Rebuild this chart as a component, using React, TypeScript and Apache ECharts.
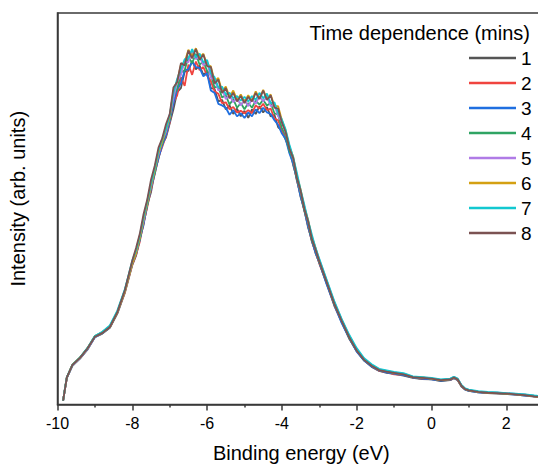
import React, { useEffect, useRef } from "react";
import * as echarts from "echarts";

// Binding energy (eV), shared by all spectra
const energy = [
  -9.85, -9.8, -9.75, -9.6, -9.4, -9.2, -9.0, -8.8, -8.6, -8.4, -8.2, -8.0,
  -7.9, -7.8, -7.7, -7.6, -7.5, -7.4, -7.3, -7.2, -7.1, -7.0,
  -6.9, -6.8, -6.7, -6.6, -6.5, -6.4, -6.3, -6.2, -6.1, -6.0,
  -5.9, -5.8, -5.7, -5.6, -5.5, -5.4, -5.3, -5.2, -5.1, -5.0,
  -4.9, -4.8, -4.7, -4.6, -4.5, -4.4, -4.3, -4.2, -4.1, -4.0,
  -3.9, -3.8, -3.7, -3.6, -3.5, -3.4, -3.3, -3.2, -3.1, -3.0,
  -2.8, -2.6, -2.4, -2.2, -2.0, -1.8, -1.6, -1.4, -1.2, -1.0,
  -0.75, -0.5, -0.25, 0, 0.25, 0.5, 0.6, 0.7, 0.8, 0.9,
  1.0, 1.25, 1.5, 1.75, 2.0, 2.25, 2.5, 2.75, 2.85,
];

const min1 = [
  1.0, 4.1, 6.8, 9.9, 11.7, 14.0, 17.2, 18.1, 19.6, 23.2, 28.5, 35.6,
  38.0, 42.4, 45.8, 51.0, 54.2, 59.5, 62.8, 66.5, 68.2, 71.8,
  75.4, 79.8, 80.8, 85.0, 85.2, 87.8, 85.6, 86.6, 84.2, 85.0,
  80.8, 80.6, 77.4, 77.8, 75.4, 76.4, 74.2, 75.6, 73.6, 75.0,
  73.2, 75.4, 74.2, 76.2, 74.6, 76.0, 73.6, 74.0, 70.8, 70.0,
  67.6, 65.4, 61.2, 57.8, 53.0, 49.8, 45.2, 42.0, 38.6, 36.2,
  30.8, 25.6, 21.0, 17.0, 13.6, 11.2, 9.6, 8.6, 8.1, 7.8,
  7.4, 6.8, 6.5, 6.4, 6.0, 6.2, 6.7, 6.2, 4.6, 3.8,
  3.5, 3.1, 2.9, 2.8, 2.7, 2.5, 2.3, 2.0, 1.9,
];
const min2 = [
  1.1, 4.0, 6.9, 10.1, 11.9, 14.3, 17.4, 18.4, 19.9, 23.6, 28.7, 35.8,
  38.2, 41.6, 46.4, 50.4, 55.0, 58.8, 63.2, 65.8, 68.6, 72.0,
  77.2, 79.0, 83.6, 81.4, 86.8, 84.2, 87.6, 85.4, 86.2, 84.0,
  82.6, 80.0, 79.4, 77.0, 77.2, 75.4, 76.0, 74.6, 75.0, 74.4,
  75.2, 74.4, 76.4, 75.6, 76.8, 75.2, 75.6, 73.0, 72.6, 69.8,
  68.2, 64.6, 62.0, 57.2, 53.6, 49.4, 45.8, 41.6, 39.0, 36.0,
  31.0, 25.2, 21.2, 16.8, 13.7, 11.3, 9.8, 8.6, 8.3, 7.7,
  7.6, 6.9, 6.6, 6.5, 6.3, 6.3, 6.8, 6.3, 4.7, 3.9,
  3.6, 3.2, 3.0, 2.9, 2.8, 2.6, 2.4, 2.1, 2.0,
];
const min3 = [
  0.9, 3.9, 6.8, 10.0, 11.8, 14.1, 17.2, 18.2, 19.7, 23.4, 28.9, 36.0,
  38.4, 42.0, 46.2, 50.8, 55.2, 59.0, 63.0, 66.2, 68.8, 72.4,
  77.0, 80.6, 82.0, 85.4, 85.6, 87.6, 86.2, 86.0, 83.8, 84.6,
  80.2, 79.6, 76.8, 76.4, 75.8, 74.0, 75.2, 73.6, 74.4, 73.2,
  74.6, 73.6, 75.4, 74.4, 75.8, 74.6, 74.2, 72.6, 71.4, 69.2,
  67.8, 64.2, 61.6, 57.4, 53.2, 49.6, 45.6, 41.8, 38.8, 36.2,
  30.6, 25.4, 20.8, 16.9, 13.5, 11.2, 9.7, 8.7, 8.2, 7.9,
  7.5, 6.9, 6.6, 6.4, 6.1, 6.3, 6.8, 6.3, 4.7, 3.8,
  3.5, 3.1, 2.9, 2.9, 2.7, 2.5, 2.3, 2.1, 2.0,
];
const min4 = [
  1.0, 4.1, 7.0, 10.2, 12.0, 14.4, 17.5, 18.5, 20.0, 23.7, 29.2, 36.4,
  39.0, 42.2, 47.4, 51.0, 56.0, 59.2, 64.4, 66.6, 70.0, 72.8,
  78.8, 80.6, 84.8, 85.4, 88.8, 87.2, 89.6, 86.8, 87.6, 85.2,
  84.2, 81.0, 81.2, 78.4, 79.0, 76.6, 78.0, 75.8, 77.0, 75.4,
  77.0, 75.8, 77.6, 76.6, 77.8, 76.4, 77.0, 74.4, 74.0, 70.6,
  68.8, 64.8, 62.6, 57.6, 54.2, 49.6, 46.6, 42.0, 39.6, 36.4,
  31.4, 25.6, 21.6, 17.0, 14.0, 11.4, 10.0, 8.8, 8.5, 8.0,
  7.8, 7.0, 6.9, 6.6, 6.3, 6.5, 7.0, 6.5, 4.9, 4.0,
  3.7, 3.3, 3.1, 3.0, 2.8, 2.7, 2.5, 2.2, 2.1,
];
const min5 = [
  1.0, 4.0, 6.9, 10.0, 11.8, 14.2, 17.3, 18.4, 19.9, 23.6, 29.0, 36.2,
  38.8, 43.0, 46.8, 51.8, 55.6, 60.2, 63.8, 67.4, 69.6, 73.6,
  78.2, 82.4, 84.2, 87.6, 87.4, 90.4, 88.2, 89.0, 86.6, 87.6,
  83.4, 83.0, 80.2, 80.6, 78.0, 79.0, 77.2, 78.4, 76.4, 77.8,
  76.2, 78.0, 76.8, 78.8, 77.4, 78.6, 76.2, 76.6, 73.6, 72.2,
  69.4, 66.0, 62.8, 58.6, 54.4, 50.6, 46.8, 43.0, 39.8, 37.0,
  31.6, 26.2, 21.6, 17.6, 14.1, 11.6, 10.1, 9.0, 8.6, 8.2,
  7.8, 7.1, 6.9, 6.7, 6.3, 6.5, 7.0, 6.5, 4.9, 4.0,
  3.7, 3.3, 3.1, 3.0, 2.9, 2.7, 2.5, 2.2, 2.1,
];
const min6 = [
  1.0, 4.0, 6.9, 10.1, 11.9, 14.3, 17.4, 18.3, 19.8, 23.5, 28.8, 36.0,
  38.6, 42.6, 47.2, 51.4, 55.8, 59.8, 64.2, 67.2, 70.2, 73.4,
  80.2, 82.6, 86.8, 87.4, 90.6, 89.0, 91.0, 88.6, 89.6, 86.8,
  86.4, 82.6, 83.4, 80.0, 81.2, 78.6, 80.2, 77.8, 79.2, 77.4,
  79.0, 77.6, 80.0, 78.2, 80.4, 78.0, 79.2, 76.2, 76.2, 72.6,
  70.0, 65.8, 63.4, 58.4, 55.0, 50.4, 47.2, 42.8, 40.0, 36.8,
  31.4, 26.0, 21.4, 17.4, 13.9, 11.5, 10.0, 8.9, 8.5, 8.1,
  7.8, 7.0, 6.9, 6.6, 6.2, 6.4, 6.9, 6.4, 4.8, 3.9,
  3.6, 3.2, 3.0, 2.9, 2.8, 2.6, 2.4, 2.1, 2.0,
];
const min7 = [
  1.0, 4.1, 7.0, 10.1, 12.0, 14.4, 17.5, 18.6, 20.2, 24.0, 29.4, 36.8,
  39.4, 43.2, 47.8, 52.0, 56.4, 60.4, 64.8, 67.8, 70.4, 74.0,
  79.6, 83.2, 85.6, 88.2, 88.4, 90.8, 88.6, 89.6, 87.4, 88.0,
  84.6, 83.6, 81.0, 81.2, 79.2, 79.6, 78.2, 78.8, 77.6, 78.6,
  77.4, 78.8, 77.8, 79.6, 78.2, 79.4, 77.0, 77.2, 74.4, 72.8,
  70.2, 66.4, 63.2, 59.2, 54.8, 51.0, 47.0, 43.4, 40.0, 37.2,
  31.8, 26.4, 21.8, 17.8, 14.4, 11.8, 10.3, 9.1, 8.7, 8.3,
  8.0, 7.2, 7.0, 6.8, 6.4, 6.6, 7.1, 6.6, 5.0, 4.1,
  3.8, 3.4, 3.2, 3.1, 2.9, 2.8, 2.6, 2.3, 2.2,
];
const min8 = [
  1.0, 4.0, 6.9, 10.1, 11.9, 14.3, 17.3, 18.3, 19.8, 23.6, 29.2, 36.8,
  40.0, 43.6, 48.6, 52.4, 57.4, 61.0, 65.6, 68.0, 71.6, 74.2,
  81.0, 82.4, 87.2, 86.6, 90.4, 88.4, 90.8, 88.0, 89.4, 86.4,
  86.2, 82.0, 83.0, 79.6, 80.8, 78.2, 79.6, 77.4, 78.8, 77.0,
  78.6, 77.4, 79.6, 78.0, 80.2, 77.8, 79.0, 75.8, 75.6, 72.0,
  69.6, 65.4, 63.0, 58.0, 54.6, 50.0, 46.8, 42.4, 39.6, 36.6,
  31.2, 25.8, 21.3, 17.2, 13.8, 11.4, 9.9, 8.8, 8.4, 8.1,
  7.7, 7.0, 6.8, 6.6, 6.2, 6.4, 6.9, 6.4, 4.8, 3.9,
  3.6, 3.2, 3.0, 2.9, 2.8, 2.6, 2.4, 2.1, 2.0,
];

const seriesNames = ["1", "2", "3", "4", "5", "6", "7", "8"];
const seriesValues = [min1, min2, min3, min4, min5, min6, min7, min8];
const seriesColors = [
  "#555555", "#f0443f", "#1f6fe0", "#2fa463",
  "#b07be6", "#d4a012", "#12c8d0", "#7b5252",
];

const FONT = "'Liberation Sans', Arial, Helvetica, sans-serif";
const AXIS_COLOR = "#3a3a3a";

export default function App() {
  const ref = useRef<HTMLDivElement>(null);

  useEffect(() => {
    if (!ref.current) return;
    const chart = echarts.init(ref.current, null, { renderer: "svg" });
    chart.setOption({
      animation: false,
      backgroundColor: "#ffffff",
      grid: {
        left: 57.5,
        top: 13,
        width: 523.6,
        height: 391.5,
        outerBoundsMode: "none",
        containLabel: false,
        show: true,
        borderColor: AXIS_COLOR,
        borderWidth: 1.5,
        backgroundColor: "transparent",
      },
      graphic: [
        {
          type: "text",
          x: 530,
          y: 33,
          style: {
            text: "Time dependence (mins)",
            fill: "#000",
            font: `20px ${FONT}`,
            textAlign: "right",
            textVerticalAlign: "middle",
          },
          z: 10,
        },
      ],
      legend: {
        data: seriesNames.map((n) => ({ name: n, icon: "rect" })),
        orient: "vertical",
        left: 469,
        top: 48,
        padding: 0,
        itemWidth: 47,
        itemHeight: 2.5,
        itemGap: 5,
        align: "left",
        textStyle: {
          fontFamily: FONT,
          fontSize: 19,
          color: "#000",
          lineHeight: 20,
          height: 20,
        },
      },
      xAxis: {
        type: "value",
        min: -10,
        max: 4,
        interval: 2,
        name: "Binding energy (eV)",
        nameLocation: "middle",
        nameGap: 38.5,
        nameTextStyle: {
          fontFamily: FONT,
          fontSize: 20,
          color: "#000",
          padding: [0, 36, 0, 0],
        },
        axisLine: {
          show: true,
          onZero: false,
          lineStyle: { color: AXIS_COLOR, width: 1.5 },
        },
        axisTick: {
          show: true,
          inside: false,
          length: 6,
          lineStyle: { color: AXIS_COLOR, width: 1.5 },
        },
        minorTick: {
          show: true,
          splitNumber: 2,
          length: 3,
          lineStyle: { color: AXIS_COLOR, width: 1.5 },
        },
        axisLabel: {
          fontFamily: FONT,
          fontSize: 16,
          color: "#000",
          margin: 11,
          showMaxLabel: false,
        },
        splitLine: { show: false },
        minorSplitLine: { show: false },
      },
      yAxis: {
        type: "value",
        min: 0,
        max: 100,
        name: "Intensity (arb. units)",
        nameLocation: "middle",
        nameGap: 30,
        nameTextStyle: {
          fontFamily: FONT,
          fontSize: 20,
          color: "#000",
          padding: [0, 0, 0, 20],
        },
        axisLine: {
          show: true,
          onZero: false,
          lineStyle: { color: AXIS_COLOR, width: 1.5 },
        },
        axisTick: { show: false },
        axisLabel: { show: false },
        splitLine: { show: false },
      },
      series: seriesValues.map((vals, si) => ({
        name: seriesNames[si],
        type: "line",
        symbol: "none",
        showSymbol: false,
        smooth: false,
        color: seriesColors[si],
        lineStyle: { color: seriesColors[si], width: 1.8 },
        data: energy.map((e, i) => [e, vals[i]]),
        z: 2 + si,
      })),
    });
    return () => chart.dispose();
  }, []);

  return (
    <div
      ref={ref}
      style={{ position: "absolute", left: 0, top: 0, width: 538, height: 466 }}
    />
  );
}
